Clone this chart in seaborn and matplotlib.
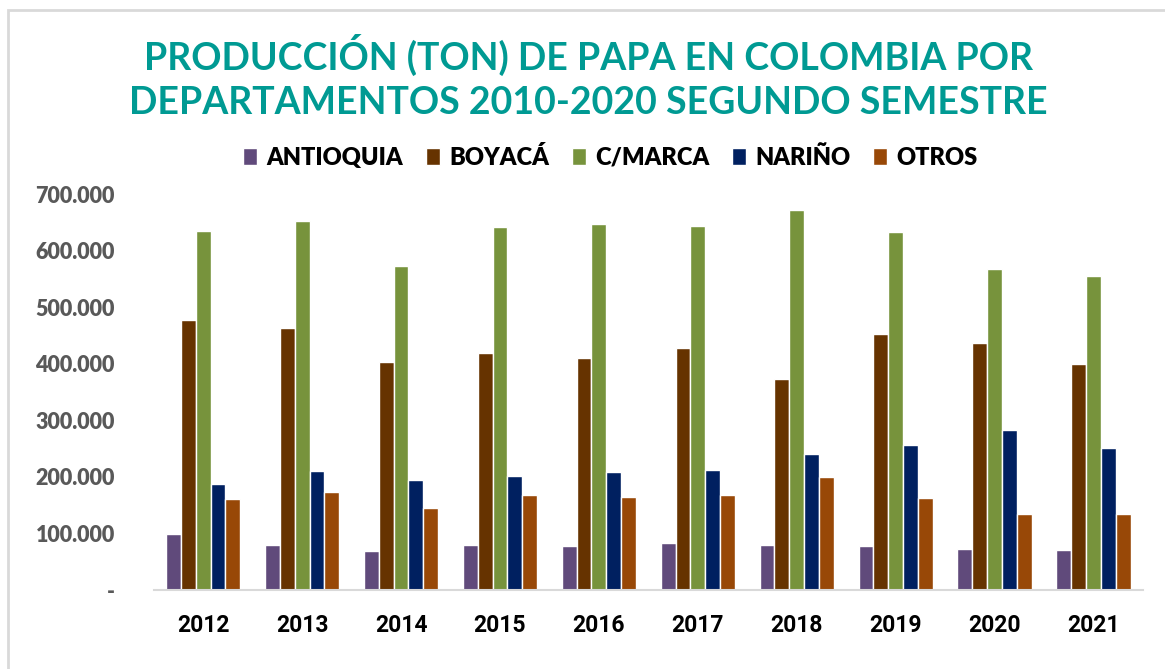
import matplotlib
matplotlib.use("Agg")
import matplotlib.pyplot as plt
import seaborn as sns
import pandas as pd
from matplotlib.patches import Rectangle
from matplotlib.ticker import FuncFormatter

years = ["2012", "2013", "2014", "2015", "2016", "2017", "2018", "2019", "2020", "2021"]
departments = ["ANTIOQUIA", "BOYACÁ", "C/MARCA", "NARIÑO", "OTROS"]
antioquia = [99500, 79000, 69000, 79000, 77000, 82500, 79000, 77000, 72000, 71300]
boyaca = [476700, 463000, 403600, 419500, 409500, 428400, 372400, 452000, 437200, 400000]
cmarca = [634600, 651700, 573300, 642300, 647000, 643500, 671200, 633400, 566900, 555600]
narino = [186800, 210400, 193900, 201500, 209000, 211600, 241000, 255800, 282800, 251000]
otros = [160900, 172700, 144400, 167400, 165000, 168500, 199200, 162600, 133800, 133800]
colors = ["#604A7B", "#663300", "#77933C", "#002060", "#984807"]

series = [antioquia, boyaca, cmarca, narino, otros]
rows = []
for dep, vals in zip(departments, series):
    for y, v in zip(years, vals):
        rows.append({"Año": y, "Departamento": dep, "Toneladas": v})
df = pd.DataFrame(rows)

sns.set_theme(style="white")
plt.rcParams["font.family"] = ["Lato", "DejaVu Sans"]

fig = plt.figure(figsize=(11.65, 6.69), dpi=100)
ax = fig.add_axes([0.132, 0.118, 0.849, 0.592])

sns.barplot(data=df, x="Año", y="Toneladas", hue="Departamento",
            hue_order=departments, order=years, palette=colors,
            width=0.75, edgecolor="white", linewidth=1.0, saturation=1,
            ax=ax, legend=True)

ax.set_ylim(0, 700000)
ax.set_yticks(range(0, 700001, 100000))
ax.yaxis.set_major_formatter(FuncFormatter(
    lambda v, p: "-" if v == 0 else f"{int(v):,}".replace(",", ".")))
ax.set_xlabel("")
ax.set_ylabel("")
for s in ["top", "right", "left"]:
    ax.spines[s].set_visible(False)
ax.spines["bottom"].set_color("#D9D9D9")
ax.spines["bottom"].set_linewidth(1.5)
ax.tick_params(axis="y", length=0, pad=28, labelsize=15.5, labelcolor="#595959")
ax.tick_params(axis="x", length=0, pad=17, labelsize=16.5, labelcolor="black")
for t in ax.get_yticklabels():
    t.set_fontweight("heavy")
for t in ax.get_xticklabels():
    t.set_fontweight("bold")
    t.set_family(["Roboto", "DejaVu Sans"])

handles, labels = ax.get_legend_handles_labels()
ax.legend_.remove()
fig.legend(handles, labels, loc="center", bbox_to_anchor=(0.524, 0.765), ncol=5,
           frameon=False, handlelength=0.6, handleheight=0.75,
           handletextpad=0.4, columnspacing=0.95, labelcolor="black",
           prop={"weight": "heavy", "size": 17, "family": ["Lato", "DejaVu Sans"]})

fig.text(0.505, 0.885, "PRODUCCIÓN (TON) DE PAPA EN COLOMBIA POR\nDEPARTAMENTOS 2010-2020 SEGUNDO SEMESTRE",
         ha="center", va="center", fontsize=27, fontweight="bold", color="#009A93",
         linespacing=1.37)

fig.patches.append(Rectangle((8 / 1165, -0.01), 1.02, 1 - 10 / 669 + 0.01,
                             transform=fig.transFigure, fill=False,
                             edgecolor="#D9D9D9", linewidth=2))

fig.savefig("out.png", dpi=100)
